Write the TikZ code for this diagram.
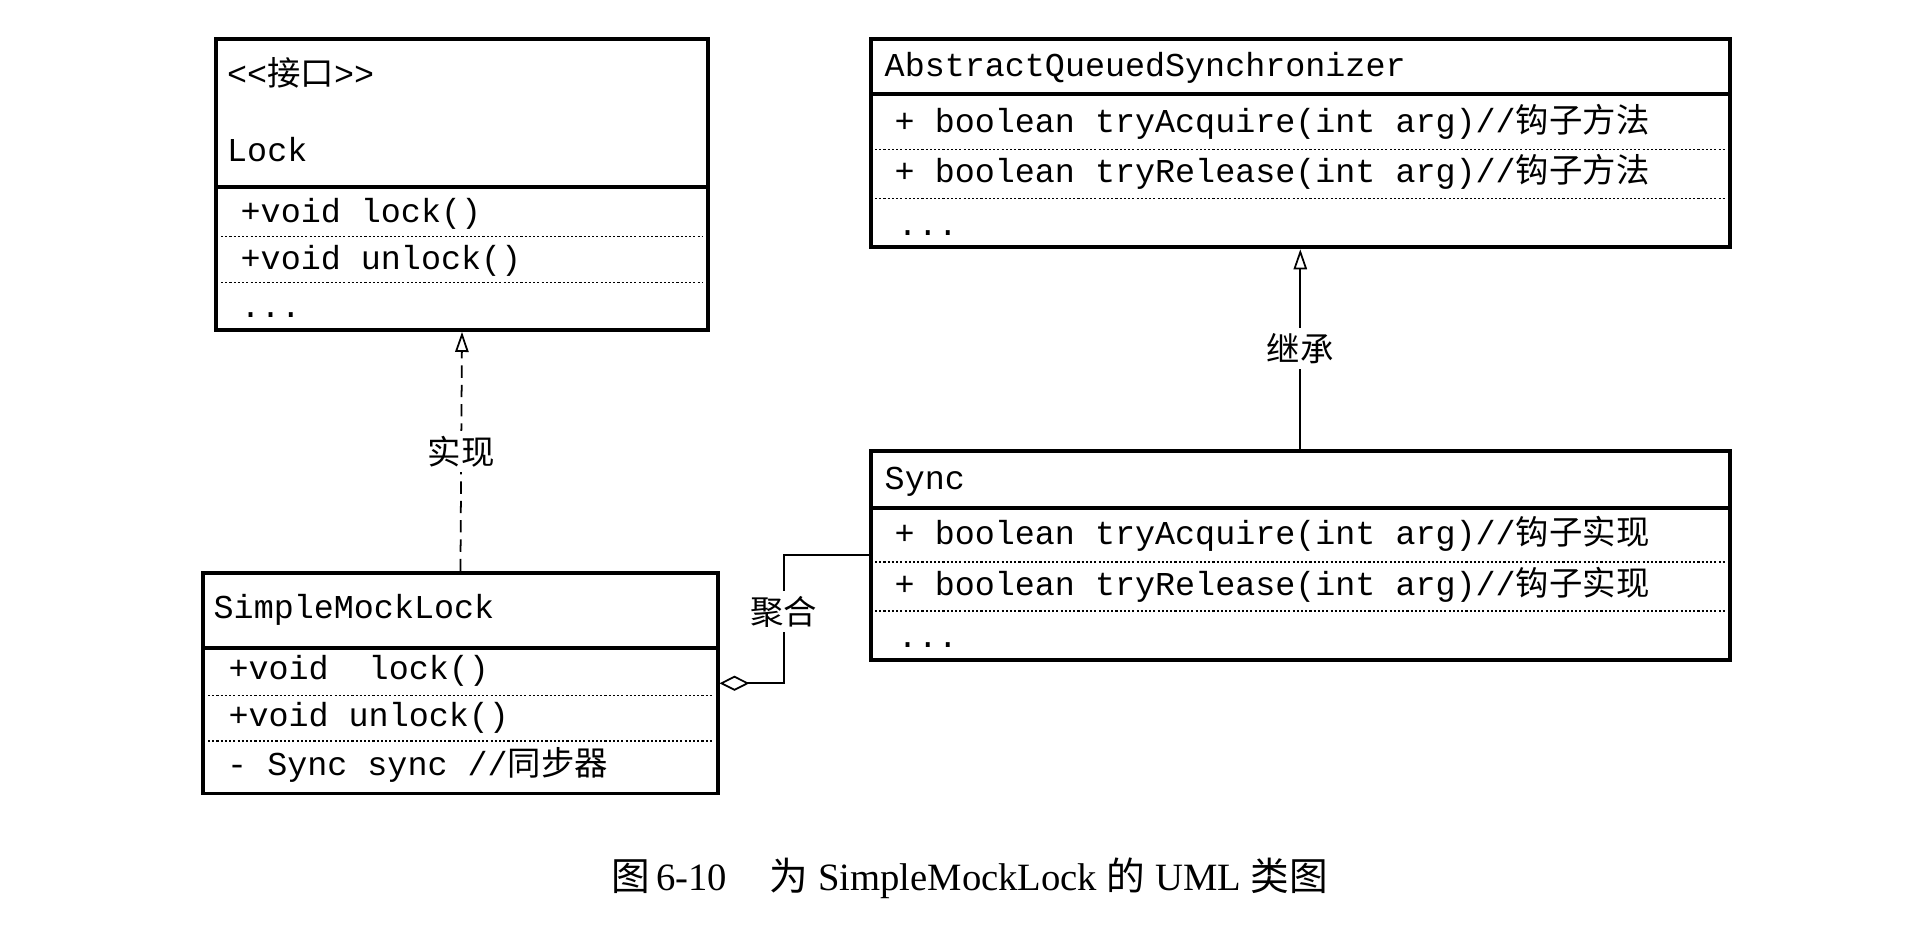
\documentclass[tikz,border=0pt]{standalone}
\usepackage{fontspec}
\setmainfont{Liberation Serif}
\setmonofont{Liberation Mono}
\newfontfamily\cjk{Noto Sans CJK SC}
\usepackage{tikz}
\usetikzlibrary{arrows.meta}

\tikzset{
  classbox/.style={draw, line width=1.1pt, inner sep=0pt},
  sepline/.style={line width=1.1pt},
  dotline/.style={line width=0.5pt, dash pattern=on 0.6pt off 0.6pt},
  member/.style={anchor=west, inner sep=0pt, text height=7pt, text depth=2pt,
    font=\fontsize{9.5}{11}\ttfamily},
  relname/.style={fill=white, inner sep=1.5pt, font=\fontsize{9.5}{11}\cjk},
  realize/.style={line width=0.5pt, dash pattern=on 3.5pt off 2pt,
    -{Triangle[open, length=5.7pt, width=3.8pt]}},
  inherit/.style={line width=0.5pt, -{Triangle[open, length=5.7pt, width=3.8pt]}},
  aggregate/.style={line width=0.5pt, -{Diamond[open, length=8.5pt, width=4.3pt]}},
}

\begin{document}
\begin{tikzpicture}
\useasboundingbox (0,0) rectangle (19.2,-9.26);

% Interface Lock
\node[classbox, minimum width=4.92cm, minimum height=2.91cm] (lock) at (4.62,-1.845) {};
\draw[sepline] (2.16,-1.87) -- (7.08,-1.87);
\draw[dotline] (2.21,-2.365) -- (7.03,-2.365);
\draw[dotline] (2.21,-2.825) -- (7.03,-2.825);
\node[member] (lockstereo) at (2.265,-0.77) {<<{\cjk 接口}>>};
\node[member] (lockname) at (2.265,-1.53) {Lock};
\node[member] (lockm1) at (2.40,-2.14) {+void lock()};
\node[member] (lockm2) at (2.40,-2.61) {+void unlock()};
\node[member] (lockm3) at (2.40,-3.086) {...};

% AbstractQueuedSynchronizer
\node[classbox, minimum width=8.594cm, minimum height=2.083cm] (aqs) at (13.003,-1.4315) {};
\draw[sepline] (8.706,-0.943) -- (17.30,-0.943);
\draw[dotline] (8.75,-1.494) -- (17.25,-1.494);
\draw[dotline] (8.75,-1.984) -- (17.25,-1.984);
\node[member] (aqsname) at (8.84,-0.673) {AbstractQueuedSynchronizer};
\node[member] (aqsm1) at (8.94,-1.237) {+ boolean tryAcquire(int arg)//{\cjk 钩子方法}};
\node[member] (aqsm2) at (8.94,-1.739) {+ boolean tryRelease(int arg)//{\cjk 钩子方法}};
\node[member] (aqsm3) at (8.97,-2.265) {...};

% Sync
\node[classbox, minimum width=8.594cm, minimum height=2.094cm] (sync) at (13.003,-5.553) {};
\draw[sepline] (8.706,-5.082) -- (17.30,-5.082);
\draw[dotline] (8.75,-5.62) -- (17.25,-5.62);
\draw[dotline] (8.75,-6.11) -- (17.25,-6.11);
\node[member] (syncname) at (8.84,-4.81) {Sync};
\node[member] (syncm1) at (8.94,-5.36) {+ boolean tryAcquire(int arg)//{\cjk 钩子实现}};
\node[member] (syncm2) at (8.94,-5.865) {+ boolean tryRelease(int arg)//{\cjk 钩子实现}};
\node[member] (syncm3) at (8.97,-6.39) {...};

% SimpleMockLock
\node[classbox, minimum width=5.143cm, minimum height=2.205cm] (sml) at (4.6045,-6.8325) {};
\draw[sepline] (2.033,-6.478) -- (7.176,-6.478);
\draw[dotline] (2.08,-6.955) -- (7.13,-6.955);
\draw[dotline] (2.08,-7.408) -- (7.13,-7.408);
\node[member] (smlname) at (2.13,-6.10) {SimpleMockLock};
\node[member] (smlm1) at (2.278,-6.71) {+void~~lock()};
\node[member] (smlm2) at (2.278,-7.176) {+void unlock()};
\node[member] (smlm3) at (2.265,-7.665) {- Sync sync //{\cjk 同步器}};

% Relations
\draw[realize] (sml.north) -- node[relname] (implname) {实现} (lock.south);
\draw[inherit] (sync.north) -- node[relname] (extname) {继承} (aqs.south);
\draw[aggregate] (sync.west) -- ++(-0.85,0) |- node[relname, pos=0.22] (aggname) {聚合} (sml.east);

% Caption
\node[font=\fontsize{11}{13}\selectfont] (caption) at (9.70,-8.78)
  {{\cjk 图}\hspace{0.15em}6-10\hspace{1.1em}{\cjk 为} SimpleMockLock {\cjk 的} UML {\cjk 类图}};

\end{tikzpicture}
\end{document}
